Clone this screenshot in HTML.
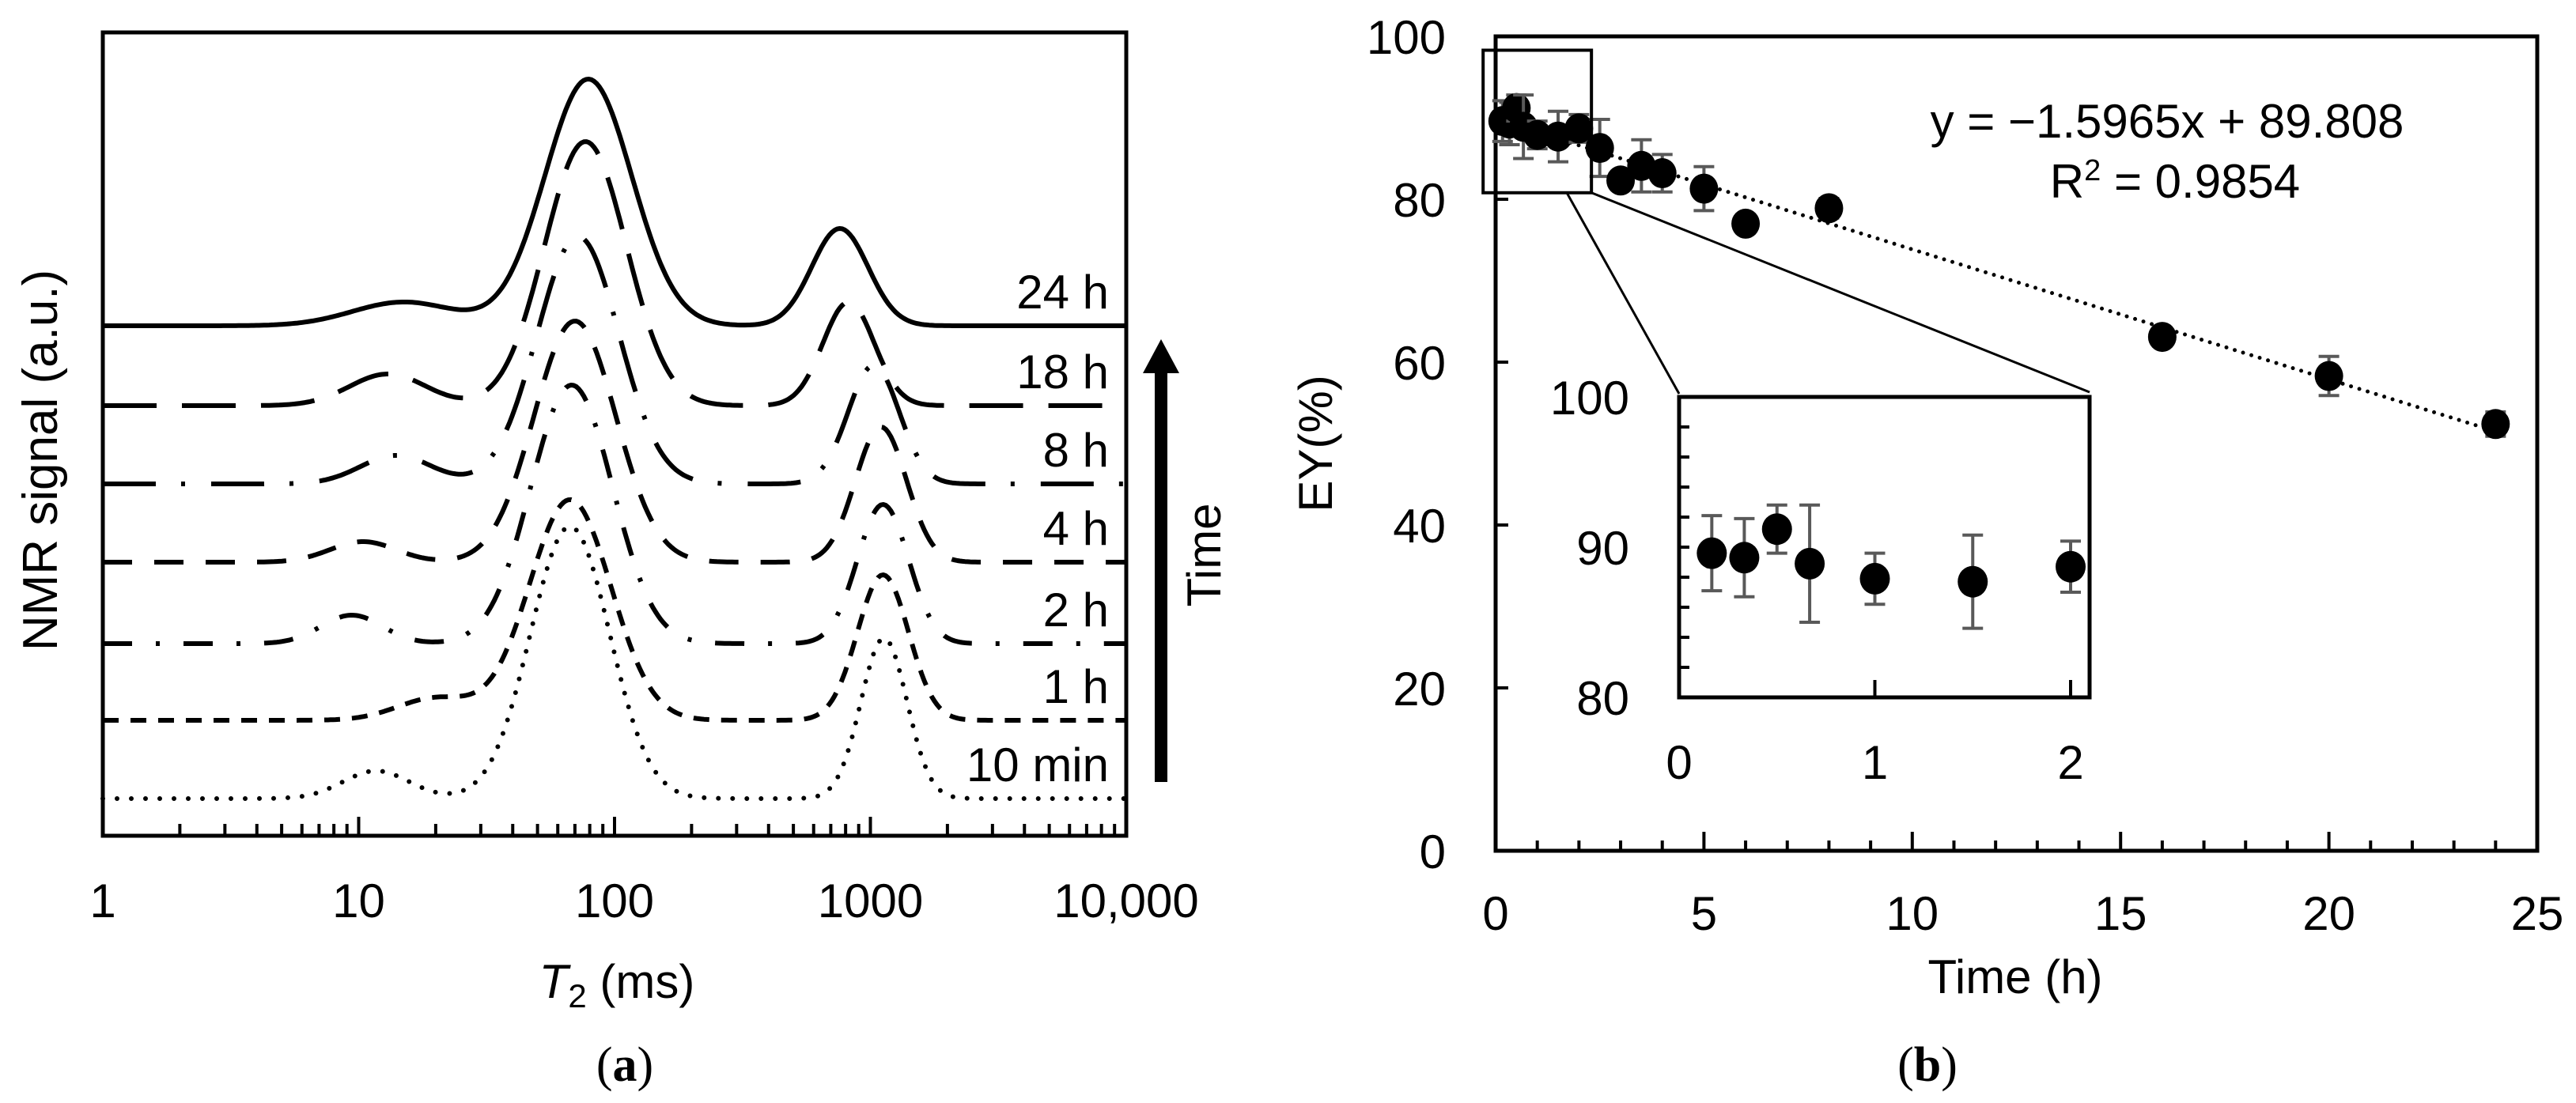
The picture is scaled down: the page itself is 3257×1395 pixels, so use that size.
<!DOCTYPE html>
<html><head><meta charset="utf-8"><style>
html,body{margin:0;padding:0;background:#fff}
svg{display:block}
text{font-family:"Liberation Sans",sans-serif;fill:#000}
</style></head><body>
<svg id="fig" width="3257" height="1395" viewBox="0 0 3257 1395" xmlns="http://www.w3.org/2000/svg">
<g id="left"></g>
<g id="right"></g>
</svg>
<script>
// ---------- Panel (a) data ----------
const seriesNames = ["10 min","1 h","2 h","4 h","8 h","18 h","24 h"];
const seriesOffsets = [0, 99, 196, 299, 398, 497, 598];
const p1Center = [11.7, 20, 9.4, 10.4, 14, 13, 15];
const p1Height = [35, 28, 36, 26, 36, 40, 30];
const p1Width = [0.13, 0.15, 0.12, 0.13, 0.14, 0.15, 0.2];
const p2Center = [67, 67, 68, 70, 72, 77, 79];
const p2Height = [344, 279, 327, 305, 313, 334, 312];
const p2Width = [0.155, 0.16, 0.16, 0.16, 0.16, 0.16, 0.17];
const p3Center = [1130, 1120, 1120, 1100, 1030, 822, 760];
const p3Height = [203, 184, 176, 171, 150, 131, 123];
const p3Width = [0.09, 0.1, 0.1, 0.1, 0.1, 0.1, 0.11];
const xTickLabelsA = ["1","10","100","1000","10,000"];

// ---------- Panel (b) data ----------
const mainT = [2.5, 3, 3.5, 4, 5, 6, 8, 16, 20, 24];
const mainEY = [86.3, 82.3, 84.1, 83.2, 81.3, 77.0, 78.9, 63.1, 58.3, 52.4];
const mainErr = [3.5, 0.5, 3.2, 2.3, 2.7, 0.5, 1.2, 0.6, 2.4, 1.5];
const insetT = [0.167, 0.333, 0.5, 0.667, 1, 1.5, 2];
const insetEY = [89.6, 89.3, 91.2, 88.9, 87.9, 87.7, 88.7];
const insetErr = [2.5, 2.6, 1.6, 3.9, 1.7, 3.1, 1.7];
const fitSlope = -1.5965;
const fitIntercept = 89.808;
const yTicksB = [0, 20, 40, 60, 80, 100];
const xTicksB = [0, 5, 10, 15, 20, 25];
const yTicksInset = [80, 90, 100];
const xTicksInset = [0, 1, 2];

const NS = "http://www.w3.org/2000/svg";
function mk(parent, tag, attrs, txt){
  const e = document.createElementNS(NS, tag);
  for (const k in attrs) e.setAttribute(k, attrs[k]);
  if (txt !== undefined) e.textContent = txt;
  parent.appendChild(e);
  return e;
}

// ================= Panel (a) =================
const L = document.getElementById('left');
const aL = 130, aR = 1424, aT = 41, aB = 1057, base0 = 1010;
const xA = v => aL + Math.log10(v) * (aR - aL) / 4;
const xAlog = l => aL + l * (aR - aL) / 4;
const yA = (i, s) => base0 - seriesOffsets[i] - s;

const styles = [
  {dash:"0 18", w:6, cap:"round"},
  {dash:"20 15", w:6, cap:"butt"},
  {dash:"37 30 5 30", w:6, cap:"butt"},
  {dash:"37 28", w:6, cap:"butt"},
  {dash:"67 32 5 33", w:6, cap:"butt"},
  {dash:"68 32", w:6, cap:"butt"},
  {dash:"", w:6, cap:"butt"}
];
const g = (l, c, h, s) => h * Math.exp(-Math.pow(l - Math.log10(c), 2) / (2 * s * s));
const curves = mk(L, 'g', {});


for (let i = 0; i < seriesNames.length; i++) {
  let d = "";
  for (let k = 0; k <= 400; k++) {
    const l = k / 100;
    const s = g(l, p1Center[i], p1Height[i], p1Width[i]) + g(l, p2Center[i], p2Height[i], p2Width[i]) + g(l, p3Center[i], p3Height[i], p3Width[i]);
    d += (k ? "L" : "M") + xAlog(l).toFixed(1) + " " + yA(i, s).toFixed(1);
  }
  const st = styles[i];
  const p = mk(curves, 'path', {d:d, fill:"none", stroke:"#000", "stroke-width":st.w, "stroke-dasharray":st.dash, "stroke-linecap":st.cap, "stroke-linejoin":"round"});
  
  
  const t = mk(L, 'text', {x:1402, y:yA(i, 0) - 22, "font-size":60, "text-anchor":"end"}, seriesNames[i]);
  
  
}
const fa = mk(L, 'rect', {x:aL, y:aT, width:aR - aL, height:aB - aT, fill:"none", stroke:"#000", "stroke-width":5});


for (let dec = 0; dec < 4; dec++) {
  for (let m = 1; m <= 9; m++) {
    if (dec === 0 && m === 1) continue;
    const x = xA(m * Math.pow(10, dec));
    const len = m === 1 ? 24 : 15;
    const tk = mk(L, 'line', {x1:x, x2:x, y1:aB, y2:aB - len, stroke:"#000", "stroke-width":4});
    
    
  }
}
xTickLabelsA.forEach((s, i) => {
  const t = mk(L, 'text', {x:xA(Math.pow(10, i)), y:1160, "font-size":60, "text-anchor":"middle"}, s);
  
  
});
const xt = mk(L, 'text', {x:780, y:1262, "font-size":60, "text-anchor":"middle"});


xt.innerHTML = '<tspan font-style="italic">T</tspan><tspan font-size="42" dy="12">2</tspan><tspan dy="-12"> (ms)</tspan>';
const yt = mk(L, 'text', {x:0, y:0, "font-size":62, "text-anchor":"middle", transform:"translate(72,582) rotate(-90)"}, "NMR signal (a.u.)");


const ar = mk(L, 'path', {d:"M1460 989 L1460 472 L1445 472 L1468 429 L1491 472 L1476 472 L1476 989 Z", fill:"#000"});


const tl = mk(L, 'text', {x:0, y:0, "font-size":60, "text-anchor":"middle", transform:"translate(1543,702) rotate(-90)"}, "Time");


const ca = mk(L, 'text', {x:790, y:1367, "font-size":62, "text-anchor":"middle", style:'font-family:"Liberation Serif",serif'});


ca.innerHTML = '(<tspan font-weight="bold">a</tspan>)';

// ================= Panel (b) =================
const R = document.getElementById('right');
const bL = 1891, bR = 3208, bT = 46, bB = 1076;
const xB = t => bL + t * (bR - bL) / 25;
const yB = v => bB - v * (bB - bT) / 100;
const iL = 2123, iR = 2642, iT = 502, iB = 882;
const xI = t => iL + t * 247.5;
const yI = v => iB - (v - 80) * (iB - iT) / 20;

const fb = mk(R, 'rect', {x:bL, y:bT, width:bR - bL, height:bB - bT, fill:"none", stroke:"#000", "stroke-width":5});


for (let t = 1; t < 25; t++) {
  const len = t % 5 === 0 ? 24 : 13;
  const tk = mk(R, 'line', {x1:xB(t), x2:xB(t), y1:bB, y2:bB - len, stroke:"#000", "stroke-width":4});
  
  
}
xTicksB.forEach(v => {
  const t = mk(R, 'text', {x:xB(v), y:1176, "font-size":60, "text-anchor":"middle"}, String(v));
  
  
});
yTicksB.forEach(v => {
  if (v > 0 && v < 100) {
    const tk = mk(R, 'line', {x1:bL, x2:bL + 16, y1:yB(v), y2:yB(v), stroke:"#000", "stroke-width":4});
    
    
  }
  const t = mk(R, 'text', {x:1828, y:yB(v) + 22, "font-size":60, "text-anchor":"end"}, String(v));
  
  
});
const xtb = mk(R, 'text', {x:2548, y:1256, "font-size":60, "text-anchor":"middle"}, "Time (h)");


const ytb = mk(R, 'text', {x:0, y:0, "font-size":60, "text-anchor":"middle", transform:"translate(1684,561) rotate(-90)"}, "EY(%)");


const cb = mk(R, 'text', {x:2437, y:1367, "font-size":62, "text-anchor":"middle", style:'font-family:"Liberation Serif",serif'});


cb.innerHTML = '(<tspan font-weight="bold">b</tspan>)';

const tr = mk(R, 'line', {x1:xB(0), y1:yB(fitIntercept), x2:xB(24), y2:yB(fitIntercept + fitSlope * 24), stroke:"#000", "stroke-width":5, "stroke-dasharray":"0 11", "stroke-linecap":"round"});


const eq = mk(R, 'text', {x:2740, y:174, "font-size":60, "text-anchor":"middle"}, "y = \u22121.5965x + 89.808");


const r2 = mk(R, 'text', {x:2750, y:250, "font-size":60, "text-anchor":"middle"});


r2.innerHTML = 'R<tspan font-size="38" dy="-22">2</tspan><tspan dy="22"> = 0.9854</tspan>';

function errPoint(parent, x, y, yLo, yHi, r, name) {
  const eb = mk(parent, 'path', {d:`M${x} ${yHi}L${x} ${yLo}M${x-13} ${yHi}L${x+13} ${yHi}M${x-13} ${yLo}L${x+13} ${yLo}`, stroke:"#595959", "stroke-width":4, fill:"none"});
  
  
  const c = mk(parent, 'ellipse', {cx:x, cy:y, rx:r, ry:r + 1, fill:"#000"});
  
  
}
insetT.forEach((t, i) => errPoint(R, xB(t), yB(insetEY[i]), yB(insetEY[i] - insetErr[i]), yB(insetEY[i] + insetErr[i]), 18, 'main'));
mainT.forEach((t, i) => errPoint(R, xB(t), yB(mainEY[i]), yB(mainEY[i] - mainErr[i]), yB(mainEY[i] + mainErr[i]), 18, 'main'));

const zb = mk(R, 'rect', {x:xB(-0.3), y:yB(98.3), width:xB(2.3) - xB(-0.3), height:yB(80.8) - yB(98.3), fill:"none", stroke:"#000", "stroke-width":4});


const c1 = mk(R, 'line', {x1:1981, y1:yB(80.8), x2:iL, y2:iT - 4, stroke:"#000", "stroke-width":3});


const c2 = mk(R, 'line', {x1:xB(2.3), y1:yB(80.8), x2:iR, y2:iT - 6, stroke:"#000", "stroke-width":3});



const IN = mk(R, 'g', {});


const fi = mk(IN, 'rect', {x:iL, y:iT, width:iR - iL, height:iB - iT, fill:"#fff", stroke:"#000", "stroke-width":5});


for (let v = 82; v < 100; v += 2) {
  const tk = mk(IN, 'line', {x1:iL, x2:iL + 13, y1:yI(v), y2:yI(v), stroke:"#000", "stroke-width":4});
  
  
}
xTicksInset.forEach(v => {
  if (v > 0) {
    const tk = mk(IN, 'line', {x1:xI(v), x2:xI(v), y1:iB, y2:iB - 22, stroke:"#000", "stroke-width":4});
    
    
  }
  const t = mk(IN, 'text', {x:xI(v), y:985, "font-size":60, "text-anchor":"middle"}, String(v));
  
  
});
yTicksInset.forEach(v => {
  const t = mk(IN, 'text', {x:2060, y:yI(v) + 22, "font-size":60, "text-anchor":"end"}, String(v));
  
  
});
insetT.forEach((t, i) => errPoint(IN, xI(t), yI(insetEY[i]), yI(insetEY[i] - insetErr[i]), yI(insetEY[i] + insetErr[i]), 19, 'inset'));
</script>
</body></html>
